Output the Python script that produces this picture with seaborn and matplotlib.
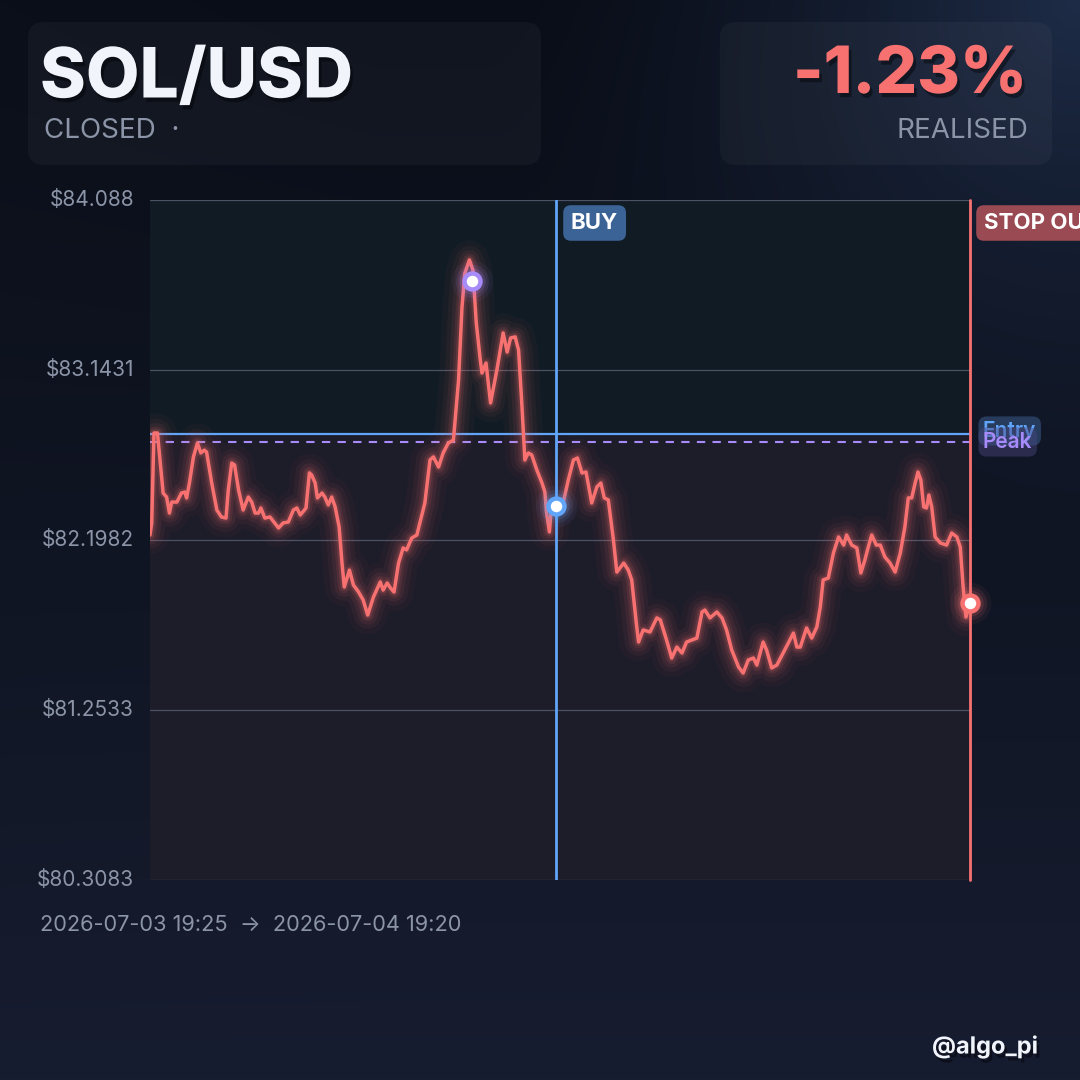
import numpy as np
import pandas as pd
import matplotlib
matplotlib.use("Agg")
import matplotlib.pyplot as plt
import matplotlib.patheffects as pe
from matplotlib.patches import FancyBboxPatch
from matplotlib.colors import to_rgb
import seaborn as sns

# minutes after 2026-07-03 19:25 and SOL price
minutes = [
    0, 3, 7, 13, 18, 23, 29, 34, 38, 47, 55, 61, 64, 69, 76, 83, 89, 95, 99, 108,
    117, 125, 133, 137, 143, 148, 155, 163, 172, 178, 184, 190, 194, 201, 210, 225, 233, 242, 251, 257,
    263, 273, 279, 283, 289, 293, 301, 306, 312, 318, 324, 331, 336, 340, 349, 356, 365, 373, 381, 391,
    403, 408, 415, 421, 427, 435, 443, 449, 458, 467,
    481, 490, 496, 505, 513, 522, 531, 540, 546, 551, 559, 565, 571, 578, 581, 588, 596, 607, 618, 625,
    631, 639, 645, 651, 656, 662, 668, 677, 686, 691, 694, 699, 703, 712, 723, 732, 741, 748, 756, 763,
    773, 782, 789, 795, 802, 811, 817, 829, 837, 843, 851, 855, 863, 875, 887,
    893, 904, 913, 922, 931, 939, 948, 957, 966, 971, 980, 992, 1001, 1009, 1018, 1030, 1038, 1047, 1056, 1062,
    1073, 1079, 1088, 1097, 1108, 1117, 1126, 1132, 1138, 1149, 1158, 1167, 1173, 1178, 1187, 1196, 1205, 1214, 1219, 1228,
    1237, 1244, 1251, 1257, 1263, 1271, 1278, 1286, 1295, 1304, 1313, 1321, 1327, 1333, 1339, 1344, 1349, 1354, 1359, 1363,
    1368, 1374, 1383, 1394, 1403, 1412, 1418, 1423, 1428, 1435,
]
prices = [
    82.226, 82.293, 82.793, 82.793, 82.626, 82.459, 82.437, 82.348, 82.409, 82.409,
    82.459, 82.465, 82.432, 82.515, 82.660, 82.737, 82.682, 82.698, 82.687, 82.515,
    82.365, 82.326, 82.320, 82.476, 82.626, 82.615, 82.476, 82.365, 82.437, 82.409,
    82.348, 82.348, 82.376, 82.320, 82.326, 82.265, 82.293, 82.298, 82.365, 82.376,
    82.337, 82.376, 82.571, 82.559, 82.515, 82.432, 82.459, 82.437, 82.393, 82.437,
    82.382, 82.270, 82.070, 81.937, 82.031, 81.948, 81.909, 81.865, 81.781, 81.881,
    81.965, 81.920, 81.959, 81.931, 81.909, 82.070, 82.154, 82.143, 82.209, 82.226,
    82.404, 82.643, 82.660, 82.604, 82.682, 82.737, 82.754, 83.088, 83.493, 83.682,
    83.755, 83.699, 83.404, 83.199, 83.126, 83.182, 82.960, 83.143, 83.349, 83.243,
    83.321, 83.327, 83.254, 82.937, 82.643, 82.682, 82.671, 82.587, 82.515, 82.465,
    82.348, 82.243, 82.404, 82.382, 82.404, 82.532, 82.643, 82.654, 82.571, 82.576,
    82.404, 82.493, 82.515, 82.432, 82.421, 82.198, 82.020, 82.070, 82.031, 81.976,
    81.737, 81.631, 81.698, 81.687, 81.765,
    81.754, 81.642, 81.542, 81.603, 81.570, 81.631, 81.642, 81.653, 81.798, 81.809,
    81.765, 81.798, 81.765, 81.698, 81.587, 81.492, 81.459, 81.531, 81.542, 81.503,
    81.631, 81.587, 81.487, 81.503, 81.570, 81.625, 81.681, 81.603, 81.603, 81.709,
    81.653, 81.715, 81.826, 81.976, 81.987, 82.126, 82.215, 82.170, 82.226, 82.170,
    82.154, 82.015, 82.087, 82.159, 82.226, 82.170, 82.170, 82.104, 82.070, 82.020,
    82.126, 82.270, 82.432, 82.432, 82.515, 82.576, 82.532, 82.382, 82.376, 82.448,
    82.382, 82.215, 82.182, 82.170, 82.237, 82.215, 82.159, 81.937, 81.770, 81.860,
]

y_ticks = [84.088, 83.1431, 82.1982, 81.2533, 80.3083]
y_labels = ["$84.088", "$83.1431", "$82.1982", "$81.2533", "$80.3083"]

entry_price = 82.790
peak_line = 82.745
buy_minute = 711
exit_minute = 1435
peak_pt = (564, 83.638)
buy_pt = (711, 82.387)
exit_pt = (1435, 81.848)

pair = "SOL/USD"
status = "CLOSED  ·"
pnl = "-1.23%"
date_range = "2026-07-03 19:25  \u2192  2026-07-04 19:20"
handle = "@algo_pi"

df = pd.DataFrame({"minute": minutes, "price": prices})

sns.set_theme(style="dark")
plt.rcParams["font.family"] = ["Inter", "DejaVu Sans"]

RED = "#f87171"
BLUE = "#60a5fa"
PURPLE = "#a78bfa"
GREY = "#8b95a7"

fig = plt.figure(figsize=(10.8, 10.8), dpi=100)

# background gradient
H = W = 270
yy, xx = np.mgrid[0:H, 0:W] / (H - 1)
top = np.array(to_rgb("#090d17"))
bot = np.array(to_rgb("#171d30"))
glow = np.array(to_rgb("#1e2c47"))
img = top[None, None, :] * (1 - yy[..., None]) + bot[None, None, :] * yy[..., None]
d = np.sqrt((1 - xx) ** 2 + yy ** 2)
w = np.clip(1 - d / 0.55, 0, 1) ** 1.5
img = img * (1 - w[..., None]) + glow[None, None, :] * w[..., None]
left_lift = np.clip(1 - xx / 0.35, 0, 1) * (1 - yy) * 0.25
img = img + left_lift[..., None] * (np.array(to_rgb("#10151f")) - img)

bg = fig.add_axes([0, 0, 1, 1])
bg.imshow(img, extent=(0, 1080, 1080, 0), aspect="auto", interpolation="bilinear")
bg.set_xlim(0, 1080)
bg.set_ylim(1080, 0)
bg.axis("off")

for x0, x1 in [(28, 541), (720, 1052)]:
    bg.add_patch(FancyBboxPatch((x0, 22), x1 - x0, 143, boxstyle="round,pad=0,rounding_size=16",
                                facecolor="white", alpha=0.035, edgecolor="none"))

# main chart
ax = fig.add_axes([150 / 1080, 200 / 1080, 820 / 1080, 680 / 1080])
ax.set_facecolor("none")
ax.set_xlim(0, 1435)
ax.set_ylim(y_ticks[-1], y_ticks[0])
ax.axhspan(entry_price, y_ticks[0], color="#111b24", zorder=0, lw=0)
ax.axhspan(y_ticks[-1], entry_price, color="#1d1c29", zorder=0, lw=0)
for t in y_ticks:
    ax.axhline(t, color="#4a5263", lw=0.9, zorder=1)

ax.axhline(entry_price, color=BLUE, lw=1.6, zorder=2)
ax.axhline(peak_line, color=PURPLE, lw=1.5, ls=(0, (4, 3.5)), zorder=2)

# soft glow under the price line
for lw, a in [(28, 0.035), (20, 0.05), (14, 0.07), (9, 0.1), (5.5, 0.16)]:
    sns.lineplot(data=df, x="minute", y="price", ax=ax, color=RED, lw=lw, alpha=a,
                 estimator=None, solid_capstyle="round", solid_joinstyle="round", zorder=3)
sns.lineplot(data=df, x="minute", y="price", ax=ax, color=RED, lw=2.5,
             estimator=None, zorder=4)

ax.axvline(buy_minute, color=BLUE, lw=2, zorder=5)
ax.axvline(exit_minute, color=RED, lw=2, zorder=5, clip_on=False)

for (mx, my), c in [(peak_pt, PURPLE), (buy_pt, BLUE), (exit_pt, RED)]:
    for ms, a in [(30, 0.06), (24, 0.1), (19, 0.16)]:
        ax.plot(mx, my, "o", ms=ms, color=c, alpha=a, mec="none", zorder=6, clip_on=False)
    ax.plot(mx, my, "o", ms=11.5, mfc="white", mec=c, mew=3.2, zorder=7, clip_on=False)

ax.set_yticks(y_ticks)
ax.set_yticklabels([])
ax.set_xticks([])
ax.set_xlabel("")
ax.set_ylabel("")
for s in ax.spines.values():
    s.set_visible(False)
ax.grid(False)

# overlay text
ov = fig.add_axes([0, 0, 1, 1], zorder=10)
ov.set_xlim(0, 1080)
ov.set_ylim(1080, 0)
ov.axis("off")
ov.patch.set_alpha(0)

shadow = [pe.withSimplePatchShadow(offset=(2, -3), shadow_rgbFace="black", alpha=0.4)]
ov.text(40, 79, pair, fontsize=50, fontweight="heavy", color="#f1f5fb",
        va="center", ha="left", path_effects=shadow)
ov.text(44, 131, status, fontsize=20, color=GREY, va="center", ha="left")
ov.text(1027, 76, pnl, fontsize=47, fontweight="heavy", color=RED,
        va="center", ha="right", path_effects=shadow)
ov.text(1028, 131, "REALISED", fontsize=20, color=GREY, va="center", ha="right")

for t, lab in zip(y_ticks, y_labels):
    ypx = 200 + (y_ticks[0] - t) / (y_ticks[0] - y_ticks[-1]) * 680
    ov.text(134, ypx, lab, fontsize=15, color=GREY, va="center", ha="right")

ov.text(40, 925, date_range, fontsize=15.7, color=GREY, va="center", ha="left")
ov.text(1038, 1047, handle, fontsize=17, fontweight="bold", color="#f1f5fb",
        va="center", ha="right", path_effects=shadow)

ov.text(571, 223, "BUY", fontsize=16, fontweight="bold", color="white", va="center", ha="left",
        bbox=dict(boxstyle="round,pad=0.35,rounding_size=0.35", fc="#3b6396", ec="none"))
ov.text(984, 223, "STOP OUT", fontsize=16, fontweight="bold", color="white", va="center", ha="left",
        bbox=dict(boxstyle="round,pad=0.35,rounding_size=0.35", fc="#9a4a52", ec="none"))
ov.text(983, 431, "Entry", fontsize=15, fontweight="semibold", color=BLUE, va="center", ha="left",
        bbox=dict(boxstyle="round,pad=0.22,rounding_size=0.4", fc="#3b5c8c", alpha=0.55, ec="none"))
ov.text(983, 442, "Peak", fontsize=15, fontweight="semibold", color=PURPLE, va="center", ha="left",
        bbox=dict(boxstyle="round,pad=0.22,rounding_size=0.4", fc="#4a4680", alpha=0.45, ec="none"))

fig.savefig("out.png", dpi=100)
